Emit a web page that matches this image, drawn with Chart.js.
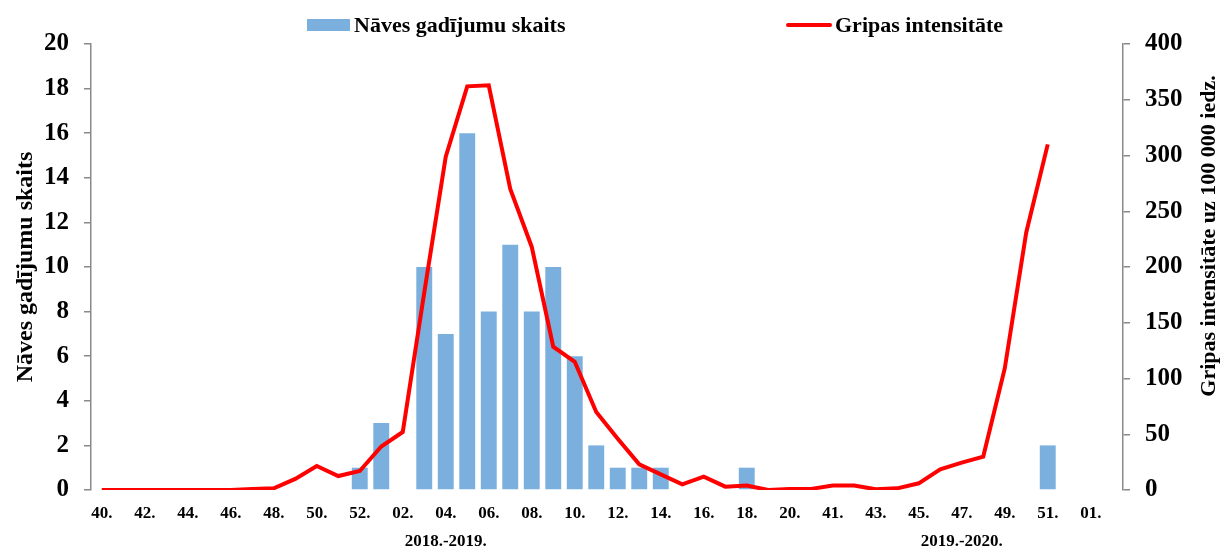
<!DOCTYPE html>
<html>
<head>
<meta charset="utf-8">
<script src="https://cdn.jsdelivr.net/npm/chart.js@4.4.1/dist/chart.umd.min.js"></script>
<style>
  body { margin: 0; background: #fff; }
  #wrap { position: relative; width: 1224px; height: 550px; font-family: "Liberation Serif", "Times New Roman", serif; font-weight: bold; color: #000; }
  .legText { position: absolute; top: 14px; font-size: 22px; line-height: 22px; white-space: nowrap; }
  .legBox { position: absolute; left: 307px; top: 19px; width: 43px; height: 12px; background: #7BB0DE; }
  .legLine { position: absolute; left: 786px; top: 23px; width: 46px; height: 4px; background: #FF0000; border-radius: 2px; }
  canvas { position: absolute; left: 0; top: 0; }
</style>
</head>
<body>
<div id="wrap">
  <canvas id="fluChart" width="1224" height="550"></canvas>
  <div class="legBox"></div>
  <div class="legText" style="left:354px">Nāves gadījumu skaits</div>
  <div class="legLine"></div>
  <div class="legText" style="left:835px">Gripas intensitāte</div>
</div>
<script>
// nedēļas (2018./2019. un 2019./2020. sezona)
const weeks = ['40.','41.','42.','43.','44.','45.','46.','47.','48.','49.','50.','51.','52.',
  '01.','02.','03.','04.','05.','06.','07.','08.','09.','10.','11.','12.','13.','14.','15.','16.','17.','18.','19.','20.',
  '40.','41.','42.','43.','44.','45.','46.','47.','48.','49.','50.','51.','52.','01.','02.'];

// nāves gadījumu skaits
const deaths = [0,0,0,0,0,0,0,0,0,0,0,0,1,
  3,0,10,7,16,8,11,8,10,6,2,1,1,1,0,0,0,1,0,0,
  0,0,0,0,0,0,0,0,0,0,0,2,0,0,0];

// gripas intensitāte uz 100 000 iedz.
const flu = [0,0,0,0,0,0,0,1,1.5,10,21.5,12.5,17,
  39,52,177,299,362,363,270,218,128.5,115,70,46,23,14,5,12,3,4,0,1,
  1,4,4,0.6,1.5,6,18.5,24.5,30,109,231,310,null,null,null];

// sezonas (pirmā un pēdējā nedēļa)
const seasons = ['2018.-2019.', '2019.-2020.'];
const seasonFrom = [0, 33];
const seasonTo = [32, 47];

const fontFam = '"Liberation Serif", "Times New Roman", serif';
const axisGrey = '#898989';

// sezonu nosaukumi zem nedēļām + labās ass nosaukums (lasāms no apakšas uz augšu)
const extraLabels = {
  id: 'extraLabels',
  afterDraw(chart) {
    const c = chart.ctx;
    const x = chart.scales.x;
    c.save();
    c.font = 'bold 17px ' + fontFam;
    c.fillStyle = '#000';
    c.textAlign = 'center';
    c.textBaseline = 'middle';
    seasons.forEach((s, i) => {
      const mid = (x.getPixelForValue(seasonFrom[i]) + x.getPixelForValue(seasonTo[i])) / 2;
      c.fillText(s, mid, 542);
    });
    c.translate(1209, 236);
    c.rotate(-Math.PI / 2);
    c.font = 'bold 22px ' + fontFam;
    c.fillText('Gripas intensitāte uz 100 000 iedz.', 0, 0);
    c.restore();
  }
};

new Chart(document.getElementById('fluChart'), {
  type: 'bar',
  data: {
    labels: weeks,
    datasets: [
      {
        type: 'line',
        label: 'Gripas intensitāte',
        data: flu,
        yAxisID: 'y1',
        borderColor: '#FF0000',
        borderWidth: 4,
        pointRadius: 0,
        tension: 0,
        fill: false,
        order: 0
      },
      {
        label: 'Nāves gadījumu skaits',
        data: deaths,
        yAxisID: 'y',
        backgroundColor: '#7BB0DE',
        borderWidth: 0,
        barPercentage: 0.74,
        categoryPercentage: 1,
        order: 1
      }
    ]
  },
  options: {
    responsive: false,
    animation: false,
    layout: { padding: { top: 44, left: 0, right: 0, bottom: 0 } },
    plugins: {
      legend: { display: false },
      tooltip: { enabled: false }
    },
    scales: {
      x: {
        offset: true,
        grid: { display: false, drawTicks: false },
        border: { display: false },
        ticks: {
          autoSkip: false,
          maxRotation: 0,
          padding: 13,
          color: '#000',
          font: { family: fontFam, size: 17, weight: 'bold' },
          callback: (v, i) => (i % 2 === 0 ? weeks[i] : '')
        },
        afterFit: s => { s.height = 60; }
      },
      y: {
        position: 'left',
        min: 0,
        max: 20,
        ticks: {
          stepSize: 2,
          padding: 15,
          color: '#000',
          font: { family: fontFam, size: 25, weight: 'bold' }
        },
        grid: { drawOnChartArea: false, drawTicks: true, tickLength: 7, color: axisGrey, lineWidth: 1.5 },
        border: { color: axisGrey, width: 1.5 },
        title: {
          display: true,
          text: 'Nāves gadījumu skaits',
          color: '#000',
          padding: { top: 11, bottom: 0 },
          font: { family: fontFam, size: 24, weight: 'bold' }
        },
        afterFit: s => { s.width = 91; }
      },
      y1: {
        position: 'right',
        min: 0,
        max: 400,
        ticks: {
          stepSize: 50,
          padding: 15,
          color: '#000',
          font: { family: fontFam, size: 25, weight: 'bold' }
        },
        grid: { drawOnChartArea: false, drawTicks: true, tickLength: 7, color: axisGrey, lineWidth: 1.5 },
        border: { color: axisGrey, width: 1.5 },
        afterFit: s => { s.width = 101; }
      }
    }
  },
  plugins: [extraLabels]
});
</script>
</body>
</html>
